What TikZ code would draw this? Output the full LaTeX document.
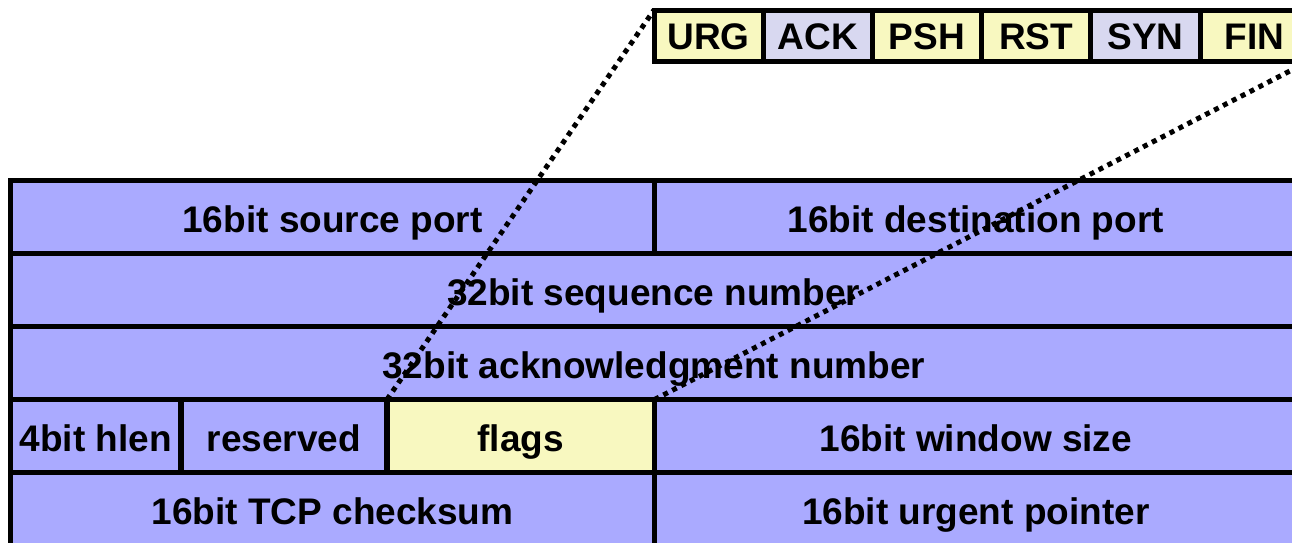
\documentclass[tikz,border=0pt]{standalone}
\usepackage{fontspec}
\setmainfont{Liberation Sans}
\definecolor{tblue}{RGB}{170,170,255}
\definecolor{tyellow}{RGB}{248,248,192}
\definecolor{tgray}{RGB}{216,216,240}
\begin{document}
\begin{tikzpicture}[x=1pt,y=-1pt,
  cell/.style={draw, line width=5.5pt, inner sep=0pt, outer sep=0pt,
    font=\fontsize{37}{40}\selectfont\bfseries, text height=31pt, text depth=0pt,
    anchor=north west, minimum height=73pt},
  bluecell/.style={cell, fill=tblue},
  flagcell/.style={cell, line width=5pt, minimum height=51pt, minimum width=109.2pt, text height=28.5pt},
  dotline/.style={line width=5pt, dash pattern=on 5pt off 5pt}]
\useasboundingbox (0,0) rectangle (1292,542);
% row 1
\node[bluecell, minimum width=644pt] (src) at (10.5,180.5) {16bit source port};
\node[bluecell, minimum width=642.5pt] (dst) at (654.5,180.5) {16bit destination port};
% row 2
\node[bluecell, minimum width=1286.5pt] (seq) at (10.5,253.5) {32bit sequence number};
% row 3
\node[bluecell, minimum width=1286.5pt] (ack) at (10.5,326.5) {32bit acknowledgment number};
% row 4
\node[bluecell, minimum width=170.5pt] (hlen) at (10.5,399.5) {4bit hlen};
\node[bluecell, minimum width=206pt] (res) at (181,399.5) {reserved};
\node[cell, fill=tyellow, minimum width=267.5pt] (flags) at (387,399.5) {flags};
\node[bluecell, minimum width=642.5pt] (win) at (654.5,399.5) {16bit window size};
% row 5
\node[bluecell, minimum width=644pt] (csum) at (10.5,472.5) {16bit TCP checksum};
\node[bluecell, minimum width=642.5pt] (urgp) at (654.5,472.5) {16bit urgent pointer};
% flag bits
\node[flagcell, fill=tyellow] (urg) at (654,10) {URG};
\node[flagcell, fill=tgray] (ackf) at (763.2,10) {ACK};
\node[flagcell, fill=tyellow] (psh) at (872.4,10) {PSH};
\node[flagcell, fill=tyellow] (rst) at (981.6,10) {RST};
\node[flagcell, fill=tgray] (syn) at (1090.8,10) {SYN};
\node[flagcell, fill=tyellow] (fin) at (1200,10) {FIN};
% zoom lines
\draw[dotline] (flags.north west) -- (urg.north west);
\draw[dotline] (flags.north east) -- (fin.south east);
\end{tikzpicture}
\end{document}
